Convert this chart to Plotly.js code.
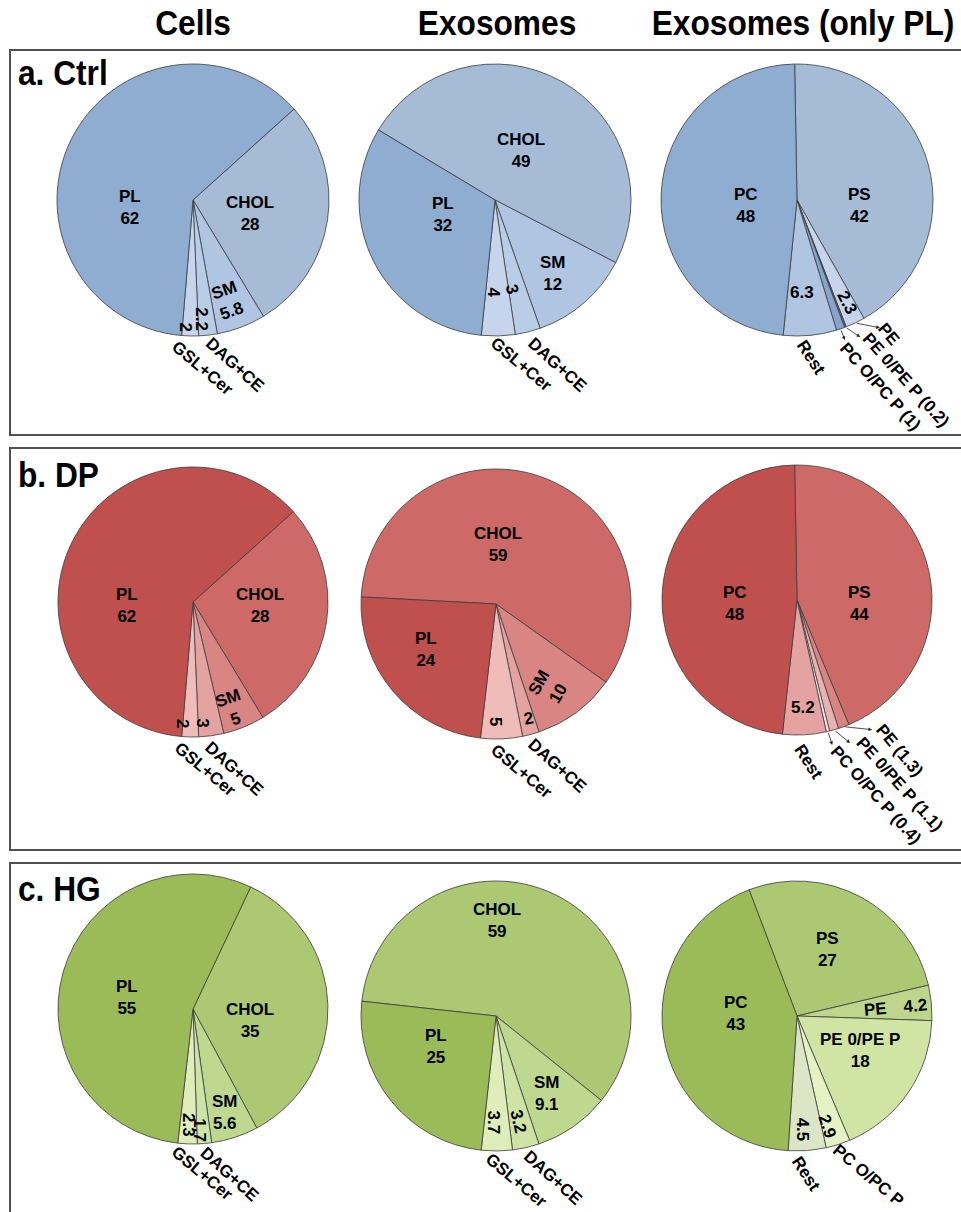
<!DOCTYPE html>
<html>
<head>
<meta charset="utf-8">
<script src="https://cdn.plot.ly/plotly-3.0.1.min.js"></script>
<style>
  html, body { margin: 0; padding: 0; background: #ffffff; }
  #chart { width: 961px; height: 1212px; }
</style>
</head>
<body>
<div id="chart"></div>
<script>
// Lipid composition (% of total lipid) of cells and exosomes under three conditions
const lipidClasses = ['CHOL', 'SM', 'DAG+CE', 'GSL+Cer', 'PL'];
const plClasses = ['PS', 'PE', 'PE 0/PE P', 'PC O/PC P', 'Rest', 'PC'];

const ctrlCells = [28, 5.8, 2.2, 2, 62];
const ctrlExosomes = [49, 12, 3, 4, 32];
const ctrlExosomesPL = [42, 2.3, 0.2, 1, 6.3, 48];

const dpCells = [28, 5, 3, 2, 62];
const dpExosomes = [59, 10, 2, 5, 24];
const dpExosomesPL = [44, 1.3, 1.1, 0.4, 5.2, 48];

const hgCells = [35, 5.6, 1.7, 2.3, 55];
const hgExosomes = [59, 9.1, 3.2, 3.7, 25];
const hgExosomesPL = [27, 4.2, 18, 2.9, 4.5, 43];

const columnTitles = ['Cells', 'Exosomes', 'Exosomes (only PL)'];
const panelTitles = ['a. Ctrl', 'b. DP', 'c. HG'];

// ---- styling ----
const W = 961, H = 1212;
const palettes = {
  blue:  { lipid: ['#A5BBD6', '#AFC5E1', '#B9CDE7', '#C6D5EC', '#8FADD0'],
           pl:    ['#A5BBD6', '#C6D5EC', '#4A6FA5', '#86A4CC', '#AFC5E1', '#8FADD0'] },
  red:   { lipid: ['#CD6A67', '#D98583', '#E4A3A1', '#EFBCBA', '#C0504D'],
           pl:    ['#CD6A67', '#D98583', '#E8B2B0', '#F7E4E3', '#E4A3A1', '#C0504D'] },
  green: { lipid: ['#ACC872', '#BED88F', '#CFE3A7', '#DEEDBA', '#9BBB59'],
           pl:    ['#ACC872', '#BDD68C', '#D0E5A3', '#E5F2C4', '#DCE6C6', '#9BBB59'] }
};

const labelFont = { family: 'Liberation Sans, Arial, sans-serif', size: 17, color: '#000000', weight: 'bold' };
const headFont = { family: 'Liberation Sans, Arial, sans-serif', size: 36, color: '#000000', weight: 'bold' };
const headSqueeze = 0.88;   // condensed look for the headings

// label placement: slice index, kind, radial factor, angular nudge, text angle
const L = (i, k, f, da, rot, arrow) => ({ i, k, f, da, rot: rot || 0, arrow });

const pies = [
  // row a
  { values: ctrlCells, labels: lipidClasses, colors: palettes.blue.lipid, cx: 193, cy: 200, r: 136, rotation: 48,
    marks: [L(4,'in',.47,-33.5), L(0,'in',.43,5.4), L(1,'in',.78,1.4,-20), L(2,'val',.88,2,90), L(3,'val',.94,2.4,90),
            L(2,'name',1.25,-7.7,42), L(3,'name',1.238,-4.6,40)] },
  { values: ctrlExosomes, labels: lipidClasses, colors: palettes.blue.lipid, cx: 495, cy: 200, r: 136, rotation: -59,
    marks: [L(0,'in',.41,-1.7), L(4,'in',.40,10.8), L(1,'in',.69,2.5), L(2,'val',.67,3.3,76), L(3,'val',.68,2.6,90),
            L(3,'name',1.228,-7.6,40), L(2,'name',1.29,-6.7,42)] },
  { values: ctrlExosomesPL, labels: plClasses, colors: palettes.blue.pl, cx: 797, cy: 200, r: 136, rotation: -1,
    marks: [L(5,'in',.38,-9), L(0,'in',.46,20.6), L(4,'val',.68,2.5,0), L(1,'val',.84,-0.5,62), L(4,'name',1.166,0.5,57),
            L(3,'nameval',1.5,-5.4,48,{f:1.088,da:-0.2}), L(2,'nameval',1.55,-10.4,48,{f:1.11,da:-3.9}),
            L(1,'name',1.2,-8.9,50,{f:1.12,da:-7.6})] },
  // row b
  { values: dpCells, labels: lipidClasses, colors: palettes.red.lipid, cx: 193, cy: 602, r: 135, rotation: 48,
    marks: [L(4,'in',.49,-29), L(0,'in',.5,-5.8), L(1,'in',.84,2,-20), L(2,'val',.9,3.1,90), L(3,'val',.9,3.5,90),
            L(3,'name',1.247,-5.3,40), L(2,'name',1.267,-6.1,42)] },
  { values: dpExosomes, labels: lipidClasses, colors: palettes.red.lipid, cx: 496, cy: 604, r: 135, rotation: -87,
    marks: [L(0,'in',.44,-17.3), L(4,'in',.62,6.9), L(1,'in',.735,4.3,-60), L(2,'val',.886,-1,-10), L(3,'val',.867,2.4,90),
            L(3,'name',1.252,-6.4,40), L(2,'name',1.276,-5.8,42)] },
  { values: dpExosomesPL, labels: plClasses, colors: palettes.red.pl, cx: 797, cy: 600, r: 135, rotation: -1,
    marks: [L(5,'in',.46,-5.4), L(0,'in',.46,14.6), L(4,'val',.8,-0.1,0), L(4,'name',1.2,-0.8,57),
            L(3,'nameval',1.556,-8.6,48,{f:1.105,da:-0.4}), L(2,'nameval',1.562,-13.3,48,{f:1.13,da:-4.4}),
            L(1,'nameval',1.35,-13.9,50,{f:1.11,da:-9.8})] },
  // row c
  { values: hgCells, labels: lipidClasses, colors: palettes.green.lipid, cx: 193, cy: 1009, r: 135, rotation: 25.3,
    marks: [L(4,'in',.496,-6.4), L(0,'in',.43,13.3), L(1,'in',.8,0.8,0), L(2,'val',.9,1.6,90), L(3,'val',.86,0.1,90),
            L(3,'name',1.224,-5.5,40), L(2,'name',1.253,-7.7,42)] },
  { values: hgExosomes, labels: lipidClasses, colors: palettes.green.lipid, cx: 496, cy: 1016, r: 135, rotation: -83.7,
    marks: [L(0,'in',.71,-21.9), L(4,'in',.5,11.4), L(1,'in',.69,1.7), L(2,'val',.8,1,77), L(3,'val',.79,1.9,90),
            L(3,'name',1.231,-6.6,40), L(2,'name',1.27,-6.4,42)] },
  { values: hgExosomesPL, labels: plClasses, colors: palettes.green.pl, cx: 797, cy: 1016, r: 135, rotation: -20.8,
    marks: [L(0,'in',.54,-3.6), L(1,'inline',.73,.9,-5), L(2,'in',.53,-5.6), L(5,'in',.45,11.2), L(3,'val',.85,2.5,72),
            L(4,'val',.845,1.7,90), L(4,'name',1.172,1.3,57), L(3,'name',1.296,-6.3,40)] }
];

const columnX = [193, 497, 803];
const panelBoxes = [[50, 435], [448, 850], [863, 1230]];
const panelLabelY = [73, 474, 888];

// ---- build ----
const px = x => x / W;
const py = y => 1 - y / H;
const polar = (p, f, deg) => {
  const a = deg * Math.PI / 180;
  return [p.cx + f * p.r * Math.sin(a), p.cy - f * p.r * Math.cos(a)];
};

const traces = [];
const annotations = [];
const shapes = [];

pies.forEach(p => {
  traces.push({
    type: 'pie',
    values: p.values,
    labels: p.labels,
    sort: false,
    direction: 'clockwise',
    rotation: p.rotation,
    textinfo: 'none',
    hoverinfo: 'label+value',
    showlegend: false,
    marker: { colors: p.colors, line: { color: '#3c3c3c', width: 0.8 } },
    domain: { x: [px(p.cx - p.r), px(p.cx + p.r)], y: [py(p.cy + p.r), py(p.cy - p.r)] }
  });

  // slice mid-angles, clockwise from 12 o'clock, the way the pie lays them out
  const total = p.values.reduce((s, v) => s + v, 0);
  let acc = p.rotation;
  const mids = p.values.map(v => {
    const span = v / total * 360;
    const m = acc + span / 2;
    acc += span;
    return m;
  });

  p.marks.forEach(m => {
    const name = p.labels[m.i], val = p.values[m.i];
    let text;
    if (m.k === 'in') text = name + '<br>' + val;
    else if (m.k === 'val') text = String(val);
    else if (m.k === 'name') text = name;
    else if (m.k === 'nameval') text = name + ' (' + val + ')';
    else text = name + '\u2003' + val;
    const pos = polar(p, m.f, mids[m.i] + m.da);
    annotations.push({
      xref: 'paper', yref: 'paper', x: px(pos[0]), y: py(pos[1]),
      text: text, showarrow: false, textangle: m.rot,
      xanchor: 'center', yanchor: 'middle', font: labelFont
    });
    if (m.arrow) {
      const tail = polar(p, 1.0, mids[m.i]);
      const head = polar(p, m.arrow.f, mids[m.i] + m.arrow.da);
      annotations.push({
        xref: 'paper', yref: 'paper', x: px(head[0]), y: py(head[1]),
        ax: tail[0] - head[0], ay: tail[1] - head[1],
        text: '', showarrow: true, arrowhead: 2, arrowsize: 0.9, arrowwidth: 0.8, arrowcolor: '#222222'
      });
    }
  });
});

columnTitles.forEach((t, k) => {
  annotations.push({ xref: 'paper', yref: 'paper', x: px(columnX[k]), y: py(23), text: t,
    showarrow: false, xanchor: 'center', yanchor: 'middle', font: headFont });
});

panelTitles.forEach((t, k) => {
  annotations.push({ xref: 'paper', yref: 'paper', x: px(16), y: py(panelLabelY[k]), text: t,
    showarrow: false, xanchor: 'left', yanchor: 'middle', align: 'left', font: headFont });
  shapes.push({ type: 'rect', xref: 'paper', yref: 'paper', layer: 'below',
    x0: px(10), x1: px(972), y0: py(panelBoxes[k][1]), y1: py(panelBoxes[k][0]),
    line: { color: '#505050', width: 2 } });
});

Plotly.newPlot('chart', traces, {
  width: W, height: H,
  margin: { l: 0, r: 0, t: 0, b: 0 },
  paper_bgcolor: '#ffffff', plot_bgcolor: '#ffffff',
  annotations: annotations,
  shapes: shapes
}, { staticPlot: true }).then(gd => {
  // narrow the column and panel headings horizontally, about their anchor x
  const heads = new Set(columnTitles.concat(panelTitles));
  gd.querySelectorAll('.annotation-text').forEach(el => {
    if (heads.has(el.textContent)) {
      const x0 = parseFloat(el.getAttribute('x')) || 0;
      const s = headSqueeze;
      el.setAttribute('transform', 'matrix(' + s + ',0,0,1,' + (x0 * (1 - s)).toFixed(2) + ',0)');
    }
  });
});
</script>
</body>
</html>
